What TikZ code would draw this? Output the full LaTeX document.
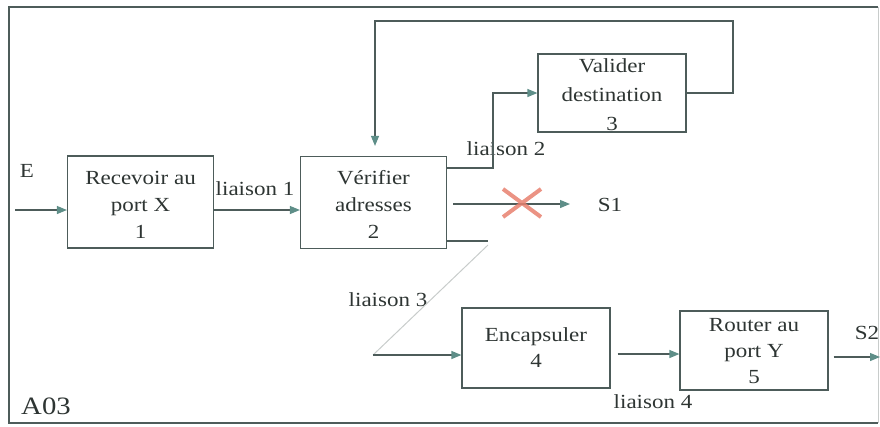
\documentclass[tikz,border=0pt]{standalone}
\usepackage{fontspec}
\setmainfont{Liberation Serif}[FakeStretch=1.15]
\usetikzlibrary{arrows.meta,calc}
\definecolor{lin}{HTML}{4D5C5A}
\definecolor{tip}{HTML}{5E8E88}
\definecolor{txt}{HTML}{2E3533}
\definecolor{cross}{HTML}{E8806E}
\definecolor{faint}{HTML}{C8CCCB}
\tikzset{
  box/.style={draw=lin, line width=1.2pt, minimum width=146pt, minimum height=92pt, inner sep=0pt},
  boxtxt/.style={text=txt, align=center, font=\fontsize{20}{27}\selectfont, inner sep=0pt},
  lbl/.style={text=txt, font=\fontsize{20}{24}\selectfont, inner sep=0pt},
  arr/.style={draw=lin, line width=1.2pt, -{Triangle[length=10pt,width=8pt,color=tip]}},
  ln/.style={draw=lin, line width=1.2pt},
}
\begin{document}
\begin{tikzpicture}[x=1pt,y=-1pt]
\useasboundingbox (0,0) rectangle (880,426);
% frame
\draw[draw=lin, line width=2.2pt] (878,7) -- (9,7) -- (9,423) -- (878,423);
\draw[draw=faint, line width=1pt] (878,7) -- (878,423);
% boxes
\node[box] (b1) at (140.5,202) {};
\node[boxtxt] (t1) at (140.5,205) {Recevoir au\\port X\\1};
\node[box] (b2) at (373.5,202.5) {};
\node[boxtxt] (t2) at (373.5,204) {Vérifier\\adresses\\2};
\node[box, minimum width=148pt, minimum height=78pt] (b3) at (612,93) {};
\node[boxtxt, font=\fontsize{20}{29}\selectfont] (t3) at (612,95) {Valider\\destination\\3};
\node[box, minimum width=148pt, minimum height=80pt] (b4) at (536,348) {};
\node[boxtxt, font=\fontsize{20}{26}\selectfont] (t4) at (536,348) {Encapsuler\\4};
\node[box, minimum width=148pt, minimum height=79pt] (b5) at (754,350.5) {};
\node[boxtxt, font=\fontsize{20}{26}\selectfont] (t5) at (754,351) {Router au\\port Y\\5};
% labels
\node[lbl] (lE) at (27,171) {E};
\node[lbl] (l1) at (255,189) {liaison 1};
\node[lbl] (l2) at (506,149) {liaison 2};
\node[lbl] (lS1) at (610,205) {S1};
\node[lbl] (l3) at (388,300) {liaison 3};
\node[lbl] (l4) at (653,402) {liaison 4};
\node[lbl] (lS2) at (867,333) {S2};
\node[lbl, font=\fontsize{25}{28}\selectfont] (lA) at (46,406) {A03};
% coordinates
\coordinate (ein) at (15,210);
\coordinate (s1end) at (570,204);
\coordinate (l3a) at (488,241);
\coordinate (l3b) at (373,355);
\coordinate (s2end) at (880,357);
% connectors
\draw[arr] (ein) -- (ein -| b1.west);
\draw[arr] (b1.east |- ein) -- (b2.west |- ein);
\draw[arr] (b2.east |- 0,168) -- (493,168) -- (493,93) -- (b3.west);
\draw[arr, shorten >=10pt] (b3.east) -- (733,93) -- (733,21) -- (375,21) -- (b2.north -| 375,0);
\draw[arr] ([xshift=6pt]b2.east |- s1end) -- (s1end);
\draw[draw=cross, line width=4pt, opacity=0.85] (503,189) -- (541,217) (503,217) -- (541,189);
\draw[ln] (b2.east |- l3a) -- (l3a);
\draw[draw=faint, line width=1pt] ([yshift=-4pt]l3a) -- (l3b);
\draw[arr] (l3b) -- (b4.west |- l3b);
\draw[arr] ([xshift=7pt]b4.east |- 0,354) -- (b5.west |- 0,354);
\draw[arr] ([xshift=5pt]b5.east |- s2end) -- (s2end);
\end{tikzpicture}
\end{document}
